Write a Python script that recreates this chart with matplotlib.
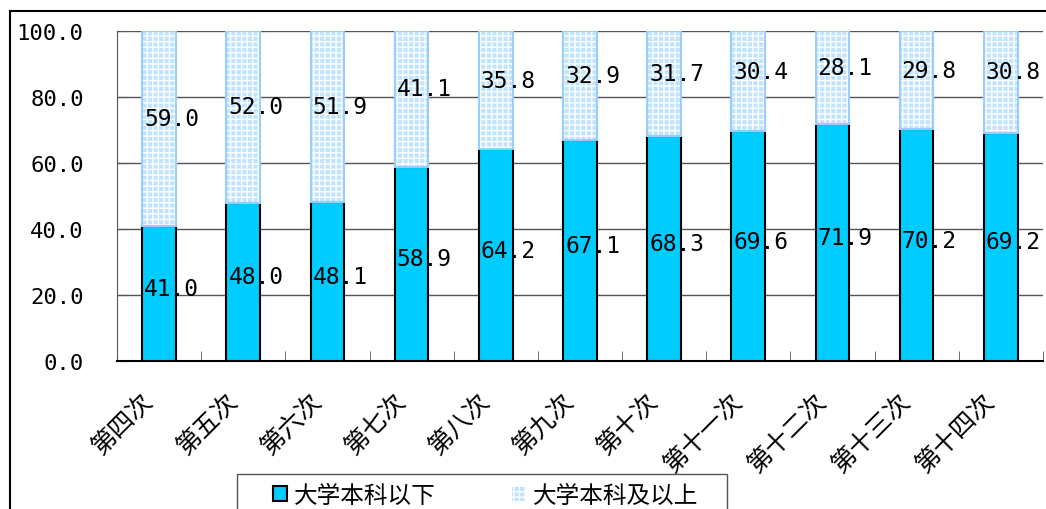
import matplotlib.pyplot as plt
import numpy as np

plt.rcParams['font.family'] = ['Noto Sans CJK SC', 'DejaVu Sans']

sessions = ['第四次', '第五次', '第六次', '第七次', '第八次', '第九次',
            '第十次', '第十一次', '第十二次', '第十三次', '第十四次']
below_bachelor = [41.0, 48.0, 48.1, 58.9, 64.2, 67.1, 68.3, 69.6, 71.9, 70.2, 69.2]
bachelor_up = [59.0, 52.0, 51.9, 41.1, 35.8, 32.9, 31.7, 30.4, 28.1, 29.8, 30.8]
series_names = ['大学本科以下', '大学本科及以上']

fig = plt.figure(figsize=(10.46, 5.10), dpi=100)
ax = fig.add_axes([0.1119, 0.2902, 0.8851, 0.6471])

x = np.arange(len(sessions))
w = 0.4

ax.bar(x, below_bachelor, w, color='#00ccff', edgecolor='black', linewidth=1.5,
       label=series_names[0], zorder=3)
ax.bar(x, bachelor_up, w, bottom=below_bachelor, color='#bfe4ff', edgecolor='white',
       hatch='+++', linewidth=0, label=series_names[1], zorder=3)
ax.bar(x, bachelor_up, w, bottom=below_bachelor, fill=False, edgecolor='#99ccff',
       linewidth=1.5, zorder=3)

mono = 'DejaVu Sans Mono'
for i in range(len(sessions)):
    lo = below_bachelor[i]
    hi = bachelor_up[i]
    ax.text(x[i] + 0.15, lo / 2 + 1.5, f'{lo:.1f}', ha='center', va='center',
            fontsize=16.5, family=mono, zorder=4)
    ax.text(x[i] + 0.15, lo + hi / 2 + 3, f'{hi:.1f}', ha='center', va='center',
            fontsize=16.5, family=mono, zorder=4)

ax.set_xlim(-0.5, len(sessions) - 0.5)
ax.set_ylim(0, 100)
ax.set_yticks(np.arange(0, 101, 20))
ax.set_yticklabels([f'{v:.1f}' for v in np.arange(0, 101, 20)], family=mono, fontsize=16)
ax.yaxis.grid(True, color='#555555', linewidth=1, zorder=0)
ax.tick_params(axis='y', direction='in', length=7, pad=24, color='#555555')

ax.set_xticks(x)
ax.set_xticklabels(sessions, rotation=45, ha='right', va='top', fontsize=18)
ax.set_xticks(np.arange(-0.5, len(sessions), 1), minor=True)
ax.tick_params(axis='x', which='major', length=0, pad=19)
ax.tick_params(axis='x', which='minor', direction='in', length=7, color='#555555')

for s in ['top', 'right']:
    ax.spines[s].set_visible(False)
ax.spines['left'].set_color('#555555')
ax.spines['bottom'].set_linewidth(1.5)

leg = fig.legend(loc='upper left', bbox_to_anchor=(0.261, 0.050),
                 bbox_transform=fig.transFigure, ncol=2,
                 fontsize=17, frameon=False,
                 handlelength=0.6, handleheight=0.6, columnspacing=3.2,
                 handletextpad=0.3, borderpad=0.0, borderaxespad=0)

# legend box, cut by the bottom edge like the original
fig.add_artist(plt.Rectangle((237 / 1046, -0.05), 490 / 1046, 0.05 + 35 / 510,
                             transform=fig.transFigure, fill=False,
                             edgecolor='#555555', linewidth=1))

# outer frame
fig.add_artist(plt.Line2D([0.0096, 0.0096], [0, 0.9765], color='black', linewidth=1.5))
fig.add_artist(plt.Line2D([0.0096, 1], [0.9765, 0.9765], color='black', linewidth=1.5))

fig.savefig('out.png', dpi=100)
